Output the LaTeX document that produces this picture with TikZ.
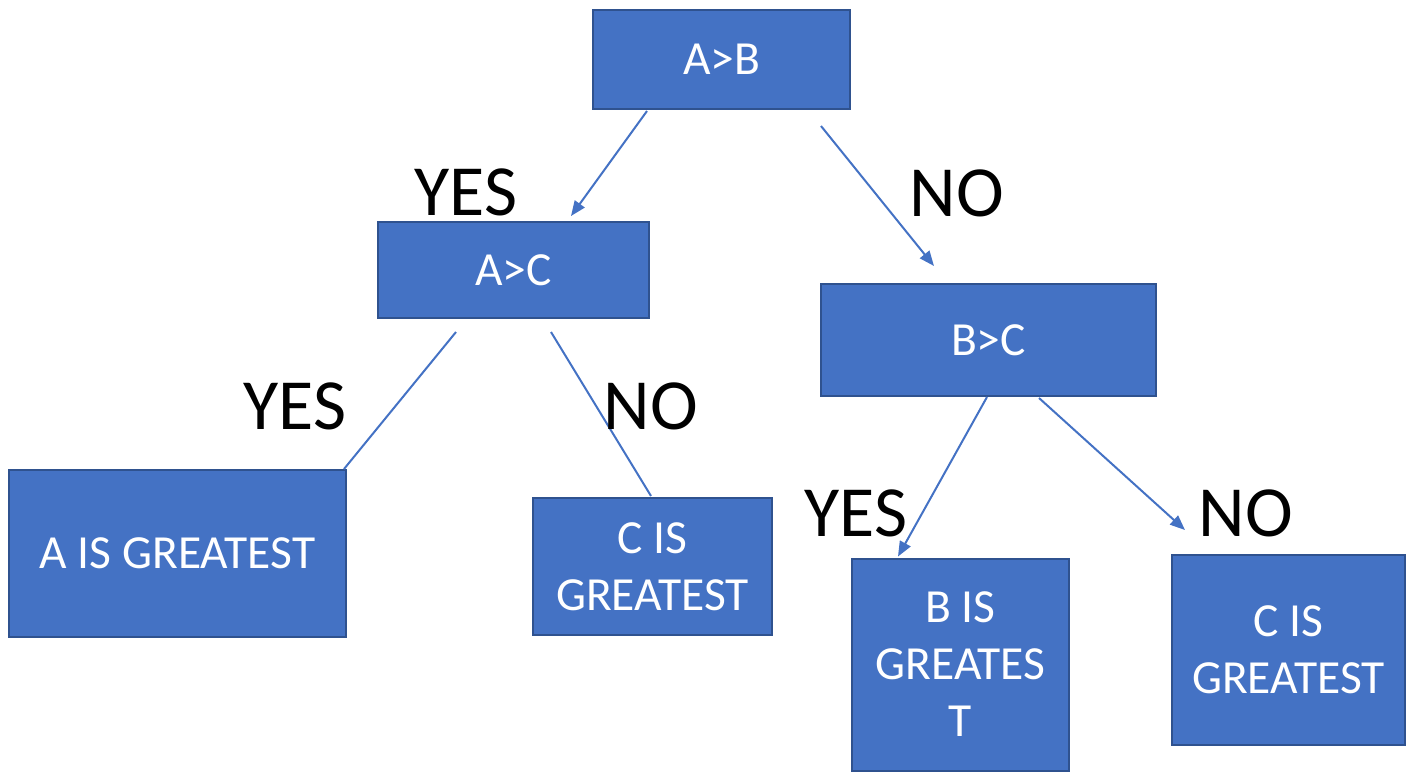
\documentclass[tikz,border=0pt]{standalone}
\usepackage{fontspec}
\setmainfont{Carlito}
\usetikzlibrary{arrows.meta,calc}
\definecolor{boxfill}{HTML}{4472C4}
\definecolor{boxedge}{HTML}{2F528F}
\tikzset{
  box/.style={draw=boxedge, fill=boxfill, line width=2pt, inner sep=0pt,
    text=white, align=center, font=\fontsize{47.5}{57}\selectfont},
  conn/.style={draw=boxfill, line width=2pt, -{Triangle[length=15pt,width=12pt]}},
  plain/.style={draw=boxfill, line width=2pt},
  lbl/.style={inner sep=0pt, font=\fontsize{72}{80}\selectfont}
}
\begin{document}
\begin{tikzpicture}[x=1pt,y=-1pt]
\useasboundingbox (0,0) rectangle (1406,772);
% decision boxes
\node[box, minimum width=257pt, minimum height=99pt] (ab) at (721.5,59.5) {A>B};
\node[box, minimum width=271pt, minimum height=96pt] (ac) at (513.5,270) {A>C};
\node[box, minimum width=335pt, minimum height=112pt] (bc) at (988.5,340) {B>C};
% result boxes
\node[box, minimum width=337pt, minimum height=167pt] (ag) at (177.5,553.5) {A IS GREATEST};
\node[box, minimum width=239pt, minimum height=137pt] (cg1) at (652.5,566.5) {C IS\\GREATEST};
\node[box, minimum width=217pt, minimum height=212pt] (bg) at (960.5,664.5) {B IS\\GREATES\\T};
\node[box, minimum width=233pt, minimum height=190pt] (cg2) at (1288.5,650) {C IS\\GREATEST};
% connectors
\draw[conn] ($(ab.south west)+(55,1)$) -- ($(ac.north west)+(194,-5)$);
\draw[conn] ($(ab.south west)+(229,16)$) -- ($(bc.north west)+(114,-17)$);
\draw[plain] ($(ac.south west)+(79,13)$) -- ($(ag.north east)+(-3,0)$);
\draw[plain] ($(ac.south west)+(174,13)$) -- ($(cg1.north west)+(119,-1)$);
\draw[conn] ($(bc.south west)+(167,0)$) -- ($(bg.north west)+(47,-1)$);
\draw[conn] ($(bc.south west)+(219,1)$) -- ($(cg2.north west)+(14,-24)$);
% branch labels
\node[lbl] (y1) at (466,192) {YES};
\node[lbl] (n1) at (957,193) {NO};
\node[lbl] (y2) at (295,406) {YES};
\node[lbl] (n2) at (651,406) {NO};
\node[lbl] (y3) at (856,513) {YES};
\node[lbl] (n3) at (1246,513) {NO};
\end{tikzpicture}
\end{document}
